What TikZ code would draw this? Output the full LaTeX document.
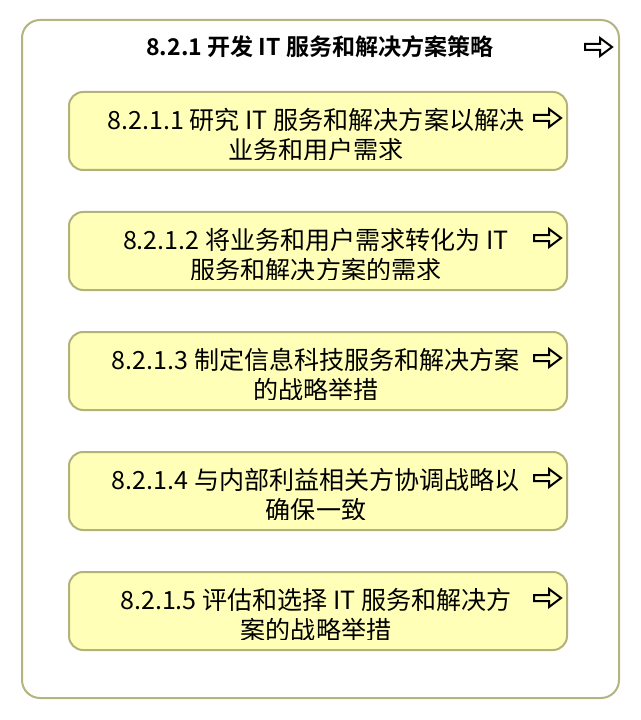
\documentclass[tikz,border=0pt]{standalone}
\usepackage{fontspec}
\setmainfont{Noto Sans CJK SC}[BoldFont={Noto Sans CJK SC Bold}]
\definecolor{frameline}{HTML}{B4B47E}
\definecolor{itemfill}{HTML}{FFFFB8}
\definecolor{itemline}{HTML}{B2B27A}
\tikzset{
  pics/openarrow/.style={code={
    \draw[line width=1.5pt,line join=miter] (0,-3) -- (15,-3) -- (15,-9) -- (27,0) -- (15,9) -- (15,3) -- (0,3) -- cycle;
  }}
}
\begin{document}
\begin{tikzpicture}[
    x			= 0.75pt,
    y			= -0.75pt,
    framebox/.style	= {draw=frameline, line width=1.5pt, fill=white, rounded corners=13.5pt},
    itembox/.style	= {draw=itemline, line width=1.5pt, fill=itemfill, rounded corners=10.5pt,
                           minimum width=373.5pt, minimum height=58.5pt, inner sep=0pt},
    itemtext/.style	= {align=center, font=\fontsize{18.8pt}{22.5pt}\selectfont, inner sep=0pt},
    titletext/.style	= {font=\fontsize{17.3pt}{20pt}\selectfont\bfseries}
  ]
\useasboundingbox (0,0) rectangle (640,720);
% outer frame
\draw[framebox] (22,20) rectangle (619,698);
\node[titletext] (title) at (320,47) {8.2.1 开发 IT 服务和解决方案策略};
\pic at (585,47) {openarrow};
% the five activities
\foreach \i/\txt in {
    1/{8.2.1.1 研究 IT 服务和解决方案以解决\\业务和用户需求},
    2/{8.2.1.2 将业务和用户需求转化为 IT\\服务和解决方案的需求},
    3/{8.2.1.3 制定信息科技服务和解决方案\\的战略举措},
    4/{8.2.1.4 与内部利益相关方协调战略以\\确保一致},
    5/{8.2.1.5 评估和选择 IT 服务和解决方\\案的战略举措}} {
  \node[itembox] (b\i) at (318,{131+120*(\i-1)}) {};
  \begin{scope}
    \clip (b\i.north west) rectangle ([yshift=8.5pt]b\i.south east);
    \node[itemtext] (t\i) at ([xshift=-1.5pt,yshift=-3pt]b\i.center) {\txt};
  \end{scope}
  \pic at ([xshift=-25.5pt,yshift=9.75pt]b\i.east) {openarrow};
}
%
\end{tikzpicture}
\end{document}
